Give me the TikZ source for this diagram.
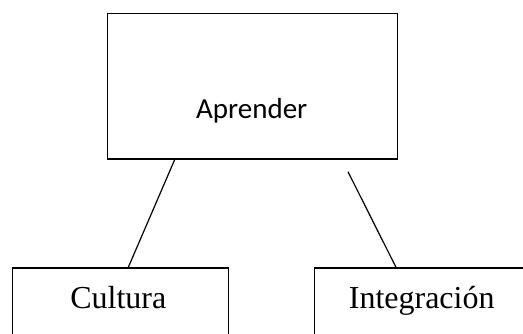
\documentclass[tikz,border=0pt]{standalone}
\usepackage{fontspec}
\setmainfont{Liberation Serif}
\newfontfamily\calfont{Carlito}
\begin{document}
\begin{tikzpicture}[x=1pt,y=-1pt,
  box/.style={draw=black,line width=1.3pt,rectangle,inner sep=0pt,anchor=north west},
  conn/.style={draw=black,line width=1.2pt}]
\useasboundingbox (0,0) rectangle (523,333);
\clip (0,0) rectangle (523,333);
\node[box,minimum width=290pt,minimum height=145.6pt] (top) at (106.7,12.7) {};
\node[box,minimum width=216pt,minimum height=80pt] (left) at (11.7,267.3) {};
\node[box,minimum width=240pt,minimum height=80pt] (right) at (314,267.3) {};
\node[anchor=base,inner sep=0pt,font=\calfont\fontsize{29}{32}\selectfont] (ttop) at (251.7,118) {Aprender};
\node[anchor=base,inner sep=0pt,font=\fontsize{32}{36}\selectfont] (tleft) at (118.3,308) {Cultura};
\node[anchor=base,inner sep=0pt,font=\fontsize{32}{36}\selectfont] (tright) at (421.7,308) {Integración};
\coordinate (rs) at (348,171.7);
\draw[conn] ([xshift=68pt]top.south west) -- ([xshift=116.6pt]left.north west);
\draw[conn] (rs) -- ([xshift=82pt]right.north west);
\end{tikzpicture}
\end{document}
